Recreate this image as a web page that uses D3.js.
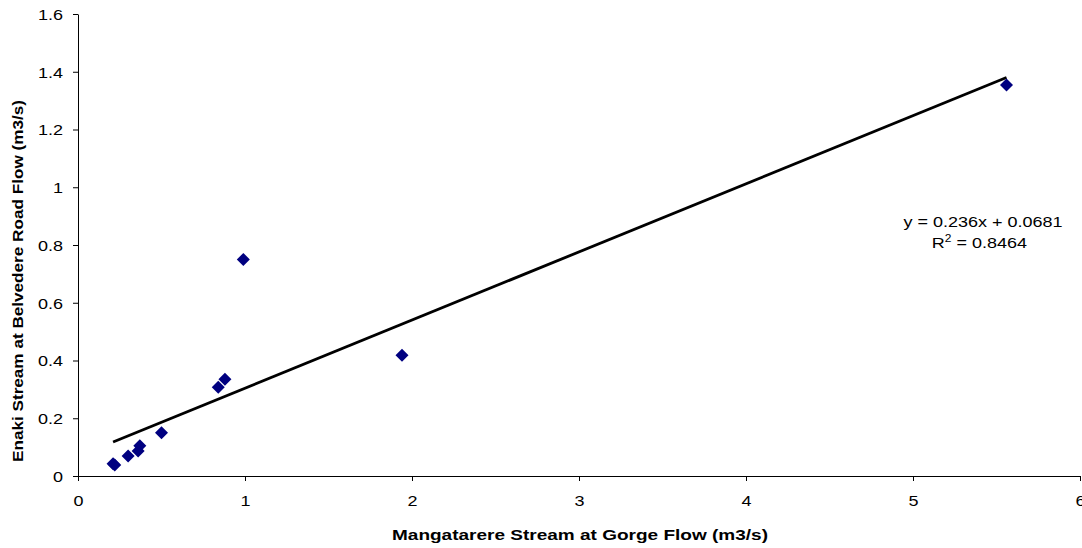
<!DOCTYPE html>
<html>
<head>
<meta charset="utf-8">
<script src="https://cdn.jsdelivr.net/npm/d3@7"></script>
<style>
  html, body { margin: 0; padding: 0; background: #fff; }
  svg { display: block; font-family: "Liberation Sans", Arial, sans-serif; }
</style>
</head>
<body>
<svg id="chart" width="1082" height="548"></svg>
<script>
// Gauged flows (m3/s): Mangatarere Stream at Gorge vs Enaki Stream at Belvedere Road
const gorgeFlow = [0.21, 0.22, 0.30, 0.36, 0.37, 0.50, 0.84, 0.88, 0.99, 1.94, 5.56];
const enakiFlow = [0.042, 0.038, 0.069, 0.087, 0.105, 0.150, 0.307, 0.335, 0.750, 0.418, 1.354];

// Linear trendline fitted to the gaugings
const slope = 0.236;
const intercept = 0.0681;
const rSquared = "0.8464";

const xTicks = [0, 1, 2, 3, 4, 5, 6];
const yTicks = [0, 0.2, 0.4, 0.6, 0.8, 1, 1.2, 1.4, 1.6];

const svg = d3.select("#chart");
const plotLeft = 78, plotRight = 1080, plotTop = 14, plotBottom = 476;
const stretch = 1.2; // text is drawn slightly wide

const x = d3.scaleLinear().domain([0, 6]).range([plotLeft, plotRight]);
const y = d3.scaleLinear().domain([0, 1.6]).range([plotBottom, plotTop]);

// Axes
const xAxis = svg.append("g")
  .attr("transform", `translate(0,${plotBottom})`)
  .call(d3.axisBottom(x).tickValues(xTicks).tickFormat(d3.format("d")).tickSize(5).tickSizeOuter(0));
const yAxis = svg.append("g")
  .attr("transform", `translate(${plotLeft},0)`)
  .call(d3.axisLeft(y).tickValues(yTicks).tickFormat(d => String(+d.toFixed(1))).tickSize(5).tickSizeOuter(0));

[xAxis, yAxis].forEach(g => {
  g.select(".domain").attr("stroke", "#000").attr("stroke-width", 1);
  g.selectAll(".tick line").attr("stroke", "#000");
  g.selectAll(".tick text")
    .attr("fill", "#000")
    .style("font-size", "15px")
    .style("font-family", "'Liberation Sans', Arial, sans-serif");
});
xAxis.selectAll(".tick text")
  .attr("y", 30).attr("dy", 0)
  .attr("transform", `scale(${stretch},1)`);
yAxis.selectAll(".tick text")
  .attr("x", -15 / stretch).attr("dy", "0.35em")
  .attr("transform", `scale(${stretch},1)`);

// Trendline across the range of observed gorge flows
const [xMin, xMax] = d3.extent(gorgeFlow);
svg.append("line")
  .attr("x1", x(xMin)).attr("y1", y(slope * xMin + intercept))
  .attr("x2", x(xMax)).attr("y2", y(slope * xMax + intercept))
  .attr("stroke", "#000")
  .attr("stroke-width", 2.8);

// Diamond markers
const pts = gorgeFlow.map((v, i) => [v, enakiFlow[i]]);
svg.append("g").selectAll("path")
  .data(pts)
  .join("path")
  .attr("d", "M0,-6.5L6.5,0L0,6.5L-6.5,0Z")
  .attr("transform", d => `translate(${x(d[0])},${y(d[1])})`)
  .attr("fill", "#000080");

// Regression equation
const eq = svg.append("g")
  .attr("transform", `translate(983,0) scale(${stretch},1)`)
  .style("font-size", "15px").attr("text-anchor", "middle");
eq.append("text").attr("x", 0).attr("y", 227)
  .text(`y = ${slope}x + ${intercept}`);
const r2 = eq.append("text").attr("x", -3).attr("y", 248);
r2.append("tspan").text("R");
r2.append("tspan").attr("dy", -6).style("font-size", "10px").text("2");
r2.append("tspan").attr("dy", 6).text(` = ${rSquared}`);

// Axis titles
svg.append("text")
  .attr("transform", "translate(580,540)")
  .attr("text-anchor", "middle")
  .attr("textLength", 376).attr("lengthAdjust", "spacingAndGlyphs")
  .style("font-size", "15px").style("font-weight", "bold")
  .text("Mangatarere Stream at Gorge Flow (m3/s)");
svg.append("text")
  .attr("transform", "translate(23,281) rotate(-90)")
  .attr("text-anchor", "middle")
  .attr("textLength", 362).attr("lengthAdjust", "spacingAndGlyphs")
  .style("font-size", "15px").style("font-weight", "bold")
  .text("Enaki Stream at Belvedere Road Flow (m3/s)");
</script>
</body>
</html>
